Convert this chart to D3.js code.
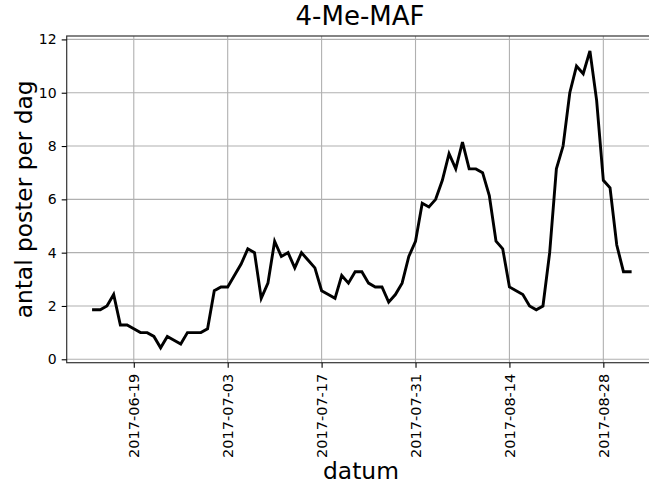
<!DOCTYPE html>
<html>
<head>
<meta charset="utf-8">
<script src="https://cdn.jsdelivr.net/npm/d3@7"></script>
<style>
  html, body { margin: 0; padding: 0; background: #fff; }
  svg { display: block; font-family: "DejaVu Sans", sans-serif; }
</style>
</head>
<body>
<svg id="chart" width="649" height="485"></svg>
<script>
const title = "4-Me-MAF";
const xLabel = "datum";
const yLabel = "antal poster per dag";
const startDate = "2017-06-13";
const values = [
  1.857, 1.857, 2.0, 2.429, 1.286, 1.286, 1.143, 1.0, 1.0, 0.857,
  0.429, 0.857, 0.714, 0.571, 1.0, 1.0, 1.0, 1.143, 2.571, 2.714,
  2.714, 3.143, 3.571, 4.143, 4.0, 2.286, 2.857, 4.429, 3.857, 4.0,
  3.429, 4.0, 3.714, 3.429, 2.571, 2.429, 2.286, 3.143, 2.857, 3.286,
  3.286, 2.857, 2.714, 2.714, 2.143, 2.429, 2.857, 3.857, 4.429, 5.857,
  5.714, 6.0, 6.714, 7.714, 7.143, 8.143, 7.143, 7.143, 7.0, 6.143,
  4.429, 4.143, 2.714, 2.571, 2.429, 2.0, 1.857, 2.0, 4.0, 7.143,
  8.0, 10.0, 11.0, 10.714, 11.571, 9.714, 6.714, 6.429, 4.286, 3.286,
  3.286
];
const xTickLabels = ["2017-06-19", "2017-07-03", "2017-07-17", "2017-07-31", "2017-08-14", "2017-08-28"];
const yTickValues = [0, 2, 4, 6, 8, 10, 12];

const parse = d3.utcParse("%Y-%m-%d");
const t0 = parse(startDate);
const data = values.map((v, i) => ({ date: d3.utcDay.offset(t0, i), value: v }));

const svg = d3.select("#chart");
const L = 66.7, R = 657, T = 36, B = 362.7;

// matplotlib-style 5% margins
const xExt = d3.extent(data, d => d.date);
const xSpan = xExt[1] - xExt[0];
const x = d3.scaleUtc()
  .domain([new Date(+xExt[0] - 0.05 * xSpan), new Date(+xExt[1] + 0.05 * xSpan)])
  .range([L, R]);
const yExt = d3.extent(values);
const ySpan = yExt[1] - yExt[0];
const y = d3.scaleLinear()
  .domain([yExt[0] - 0.05 * ySpan, yExt[1] + 0.05 * ySpan])
  .range([B, T]);

const xTicks = xTickLabels.map(parse);

// grid
const g = svg.append("g");
g.selectAll("line.gx").data(xTicks).join("line")
  .attr("x1", d => x(d)).attr("x2", d => x(d))
  .attr("y1", T).attr("y2", B)
  .attr("stroke", "#b0b0b0").attr("stroke-width", 1.1);
g.selectAll("line.gy").data(yTickValues).join("line")
  .attr("x1", L).attr("x2", R)
  .attr("y1", d => y(d)).attr("y2", d => y(d))
  .attr("stroke", "#b0b0b0").attr("stroke-width", 1.1);

// line
const line = d3.line().x(d => x(d.date)).y(d => y(d.value));
svg.append("path").datum(data)
  .attr("d", line)
  .attr("fill", "none")
  .attr("stroke", "#000")
  .attr("stroke-width", 2.9)
  .attr("stroke-linejoin", "miter")
  .attr("stroke-miterlimit", 4)
  .attr("stroke-linecap", "square");

// spines
svg.append("rect")
  .attr("x", L).attr("y", T)
  .attr("width", R - L).attr("height", B - T)
  .attr("fill", "none").attr("stroke", "#333").attr("stroke-width", 1.2);

// axes
const yAxis = d3.axisLeft(y).tickValues(yTickValues).tickSize(5).tickPadding(5).tickFormat(d3.format("d"));
const ya = svg.append("g").attr("transform", `translate(${L},0)`).call(yAxis);
ya.select(".domain").remove();
ya.selectAll("line").attr("stroke", "#000").attr("stroke-width", 1.1);
ya.selectAll("text").attr("font-size", 14).attr("fill", "#000").attr("font-family", "DejaVu Sans");

const xAxis = d3.axisBottom(x).tickValues(xTicks).tickSize(5).tickFormat(d3.utcFormat("%Y-%m-%d"));
const xa = svg.append("g").attr("transform", `translate(0,${B})`).call(xAxis);
xa.select(".domain").remove();
xa.selectAll("line").attr("stroke", "#000").attr("stroke-width", 1.1);
xa.selectAll("text")
  .attr("font-size", 14.5).attr("fill", "#000").attr("font-family", "DejaVu Sans")
  .attr("text-anchor", "end")
  .attr("dy", null)
  .attr("y", 0)
  .attr("dominant-baseline", "central")
  .attr("transform", "translate(0,11) rotate(-90)");

// labels
svg.append("text").attr("x", 360).attr("y", 25)
  .attr("text-anchor", "middle").attr("font-size", 26).attr("fill", "#000")
  .text(title);
svg.append("text").attr("x", 361).attr("y", 479)
  .attr("text-anchor", "middle").attr("font-size", 23.4).attr("fill", "#000")
  .text(xLabel);
svg.append("text")
  .attr("transform", `translate(31.5,${(T + B) / 2}) rotate(-90)`)
  .attr("text-anchor", "middle").attr("font-size", 23.3).attr("fill", "#000")
  .text(yLabel);
</script>
</body>
</html>
